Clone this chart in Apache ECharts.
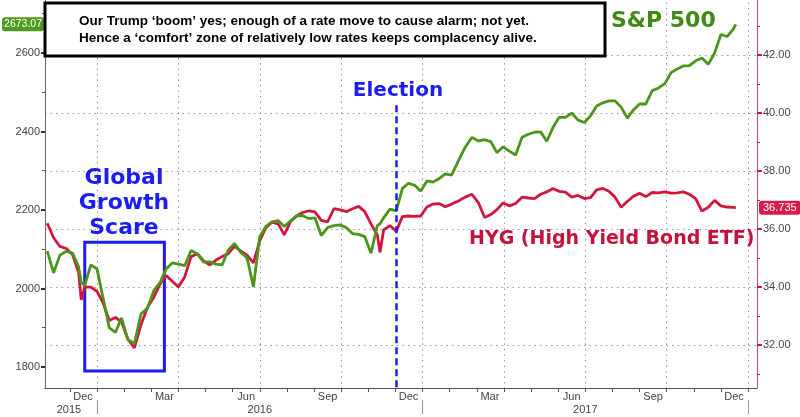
<!DOCTYPE html>
<html>
<head>
<meta charset="utf-8">
<script src="https://cdn.jsdelivr.net/npm/echarts@6/dist/echarts.min.js"></script>
<style>
  html, body { margin: 0; padding: 0; background: #fff; }
  #main { width: 800px; height: 417px; }
</style>
</head>
<body>
<div id="main"></div>
<script>
// weekly closes (S&P 500 on left axis, HYG on right axis)
var dates = [
  '2015-11-06','2015-11-13','2015-11-20','2015-11-27','2015-12-04','2015-12-11','2015-12-14','2015-12-18','2015-12-25',
  '2016-01-01','2016-01-08','2016-01-15','2016-01-22','2016-01-29','2016-02-05','2016-02-12','2016-02-19','2016-02-26',
  '2016-03-04','2016-03-11','2016-03-18','2016-03-25','2016-04-01','2016-04-08','2016-04-15','2016-04-22','2016-04-29',
  '2016-05-06','2016-05-13','2016-05-20','2016-05-27','2016-06-03','2016-06-10','2016-06-17','2016-06-24',
  '2016-07-01','2016-07-08','2016-07-15','2016-07-22','2016-07-29','2016-08-05','2016-08-12','2016-08-19','2016-08-26',
  '2016-09-02','2016-09-09','2016-09-16','2016-09-23','2016-09-30','2016-10-07','2016-10-14','2016-10-21','2016-10-28',
  '2016-11-04','2016-11-11','2016-11-14','2016-11-18','2016-11-25','2016-12-02','2016-12-09','2016-12-16','2016-12-23','2016-12-30',
  '2017-01-06','2017-01-13','2017-01-20','2017-01-27','2017-02-03','2017-02-10','2017-02-17','2017-02-24',
  '2017-03-03','2017-03-10','2017-03-17','2017-03-24','2017-03-31','2017-04-07','2017-04-14','2017-04-21','2017-04-28',
  '2017-05-05','2017-05-12','2017-05-19','2017-05-26','2017-06-02','2017-06-09','2017-06-16','2017-06-23','2017-06-30',
  '2017-07-07','2017-07-14','2017-07-21','2017-07-28','2017-08-04','2017-08-11','2017-08-18','2017-08-25',
  '2017-09-01','2017-09-08','2017-09-15','2017-09-22','2017-09-29','2017-10-06','2017-10-13','2017-10-20','2017-10-27',
  '2017-11-03','2017-11-10','2017-11-17','2017-11-24','2017-12-01','2017-12-08','2017-12-15','2017-12-18'
];
var spx = [
  2095, 2040, 2085, 2095, 2090, 2055, 2015, 2008, 2060,
  2050, 1975, 1900, 1888, 1925, 1870, 1860, 1935, 1950,
  1995, 2015, 2050, 2065, 2062, 2058, 2097, 2088, 2067,
  2068, 2062, 2060, 2098, 2115, 2092, 2078, 2004,
  2132, 2158, 2170, 2173, 2158, 2172, 2185, 2186, 2178,
  2180, 2135, 2155, 2160, 2162, 2155, 2140, 2138, 2132,
  2090, 2160, 2165, 2180, 2202, 2198, 2255, 2268, 2263, 2248,
  2274, 2271, 2280, 2292, 2289, 2325, 2360, 2385,
  2376, 2379, 2374, 2346, 2361, 2350, 2340, 2385, 2393,
  2398, 2399, 2375, 2410, 2436, 2436, 2447, 2429, 2423,
  2440, 2465, 2473, 2478, 2478, 2462, 2434, 2455,
  2470, 2470, 2504, 2511, 2522, 2550, 2559, 2567, 2568,
  2580, 2587, 2571, 2600, 2647, 2642, 2660, 2673.07
];
var hyg = [
  36.20, 35.70, 35.40, 35.33, 35.12, 34.50, 33.56, 34.00, 34.00,
  33.85, 33.45, 32.85, 32.95, 32.80, 32.20, 31.90, 32.70, 33.30,
  33.65, 34.10, 34.40, 34.20, 34.00, 34.35, 35.05, 35.15, 34.90,
  34.76, 34.93, 35.05, 35.15, 35.40, 35.25, 35.10, 34.83,
  35.60, 36.05, 36.24, 36.18, 35.80, 36.25, 36.45, 36.57, 36.63,
  36.59, 36.30, 36.25, 36.70, 36.66, 36.60, 36.70, 36.78, 36.60,
  36.18, 35.80, 35.20, 35.97, 36.12, 35.92, 36.43, 36.45, 36.44, 36.45,
  36.76, 36.86, 36.88, 36.77, 36.86, 36.97, 37.10, 37.20,
  36.90, 36.40, 36.50, 36.67, 36.90, 36.80, 36.88, 37.10, 37.07,
  37.05, 37.20, 37.28, 37.40, 37.30, 37.27, 37.10, 37.16, 37.05,
  37.08, 37.35, 37.40, 37.30, 37.10, 36.75, 36.95, 37.13,
  37.23, 37.12, 37.26, 37.25, 37.28, 37.24, 37.25, 37.28, 37.20,
  37.05, 36.62, 36.75, 36.99, 36.80, 36.76, 36.75, 36.735
];

// axis ticks and labels
var spTicks = [1800, 2000, 2200, 2400, 2600];
var spMinorTicks = [1900, 2100, 2300, 2500, 2700];
var hygTicks = [32, 34, 36, 38, 40, 42, 44];
var hygMinorTicks = [31, 33, 35, 37, 39, 41, 43];
var monthNames = ['Jan', 'Feb', 'Mar', 'Apr', 'May', 'Jun', 'Jul', 'Aug', 'Sep', 'Oct', 'Nov', 'Dec'];
var monthLabelDates = ['2015-12-16', '2016-03-16', '2016-06-16', '2016-09-16', '2016-12-16',
                       '2017-03-16', '2017-06-16', '2017-09-16', '2017-12-16'];
var quarterDates = ['2016-01-01', '2016-04-01', '2016-07-01', '2016-10-01', '2017-01-01',
                    '2017-04-01', '2017-07-01', '2017-10-01', '2018-01-01'];
var yearLabels = ['2015', '2016', '2017'];
var yearLabelDates = ['2015-11-30', '2016-07-01', '2017-07-01'];
var yearStartDates = ['2016-01-01', '2017-01-01', '2018-01-01'];
var electionDate = '2016-12-02';

var green = '#4b951a';
var red = '#d2173f';
var blue = '#1c1cf5';

// date -> months since 2015-11-01
function toM(s) {
    var p = s.split('-').map(Number);
    var dim = new Date(p[0], p[1], 0).getDate();
    return (p[0] - 2015) * 12 + (p[1] - 11) + (p[2] - 1) / dim;
}

var xMin = 0.083, xMax = 26.33;
var spMin = 1746.5, spMax = 2742.6;
var hygMin = 30.52, hygMax = 44;

var monthTicks = [];
for (var i = 1; i <= 26; i++) monthTicks.push(i);

var spData = dates.map(function (d, i) { return [toM(d), spx[i]]; });
var hygData = dates.map(function (d, i) { return [toM(d), hyg[i]]; });

var lblFont = { fontFamily: 'Liberation Sans', fontSize: 11, color: '#444' };

var myChart = echarts.init(document.getElementById('main'));
var option = {
    animation: false,
    backgroundColor: '#fff',
    grid: { left: 45, right: 43, top: -3, bottom: 29, outerBoundsMode: 'none', containLabel: false },
    xAxis: [{
        // main axis: month ticks, quarter-month labels
        type: 'value', min: xMin, max: xMax, position: 'bottom',
        axisLine: { lineStyle: { color: '#555', width: 1 } },
        axisTick: { customValues: monthTicks, length: 4, lineStyle: { color: '#555' } },
        axisLabel: Object.assign({
            customValues: monthLabelDates.map(toM), margin: 3,
            formatter: function (v) { return monthNames[(Math.floor(v) + 10) % 12]; }
        }, lblFont),
        splitLine: { show: false }
    }, {
        // quarter gridlines
        type: 'value', min: xMin, max: xMax, position: 'bottom',
        axisLine: { show: false },
        axisTick: { show: false, customValues: quarterDates.map(toM) },
        axisLabel: { show: false },
        splitLine: { show: true, lineStyle: { color: '#999', type: [1.5, 4], width: 1 } }
    }, {
        // year row
        type: 'value', min: xMin, max: xMax, position: 'bottom', offset: 12,
        axisLine: { show: false },
        axisTick: { customValues: yearStartDates.map(toM), length: 14, lineStyle: { color: '#999' } },
        axisLabel: Object.assign({
            customValues: yearLabelDates.map(toM), margin: 4,
            formatter: function (v) {
                var vals = yearLabelDates.map(toM);
                for (var k = 0; k < vals.length; k++) if (Math.abs(vals[k] - v) < 0.01) return yearLabels[k];
                return '';
            }
        }, lblFont),
        splitLine: { show: false }
    }],
    yAxis: [{
        type: 'value', min: spMin, max: spMax, position: 'left',
        axisLine: { show: true, lineStyle: { color: '#666' } },
        axisTick: { show: true, customValues: spTicks, length: 4, lineStyle: { color: '#333', width: 2 } },
        axisLabel: Object.assign({
            customValues: spTicks, margin: 5,
            formatter: function (v) { return String(v); }
        }, lblFont),
        splitLine: { show: false }
    }, {
        type: 'value', min: hygMin, max: hygMax, position: 'right',
        axisLine: { show: true, lineStyle: { color: '#d2456a' } },
        axisTick: { show: true, customValues: hygTicks, length: 5, lineStyle: { color: red, width: 2 } },
        axisLabel: Object.assign({
            customValues: hygTicks, margin: 6,
            formatter: function (v) { return v.toFixed(2); }
        }, lblFont),
        splitLine: { show: true, lineStyle: { color: '#999', type: [1.5, 4], width: 1 } }
    }, {
        type: 'value', min: hygMin, max: hygMax, position: 'right',
        axisLine: { show: false },
        axisTick: { show: true, customValues: hygMinorTicks, length: 3, lineStyle: { color: red } },
        axisLabel: { show: false },
        splitLine: { show: false }
    }, {
        // last value tag, S&P
        type: 'value', min: spMin, max: spMax, position: 'left',
        axisLine: { show: false }, axisTick: { show: false }, splitLine: { show: false },
        axisLabel: {
            customValues: [spx[spx.length - 1]], margin: 1,
            formatter: function (v) { return v.toFixed(2); },
            fontFamily: 'Liberation Sans', fontSize: 10.5, color: '#fff',
            backgroundColor: '#4e9a1e', borderRadius: 3, padding: [2, 2, 1, 2]
        }
    }, {
        // last value tag, HYG
        type: 'value', min: hygMin, max: hygMax, position: 'right',
        axisLine: { show: false }, axisTick: { show: false }, splitLine: { show: false },
        axisLabel: {
            customValues: [hyg[hyg.length - 1]], margin: 2,
            formatter: function (v) { return v.toFixed(3); },
            fontFamily: 'Liberation Sans', fontSize: 11, color: '#fff',
            backgroundColor: '#d81b4f', borderRadius: 3, padding: [2, 4, 1, 4]
        }
    }, {
        // minor ticks, S&P
        type: 'value', min: spMin, max: spMax, position: 'left',
        axisLine: { show: false },
        axisTick: { show: true, customValues: spMinorTicks, length: 3, lineStyle: { color: '#555' } },
        axisLabel: { show: false },
        splitLine: { show: false }
    }],
    series: [{
        name: 'HYG',
        type: 'line',
        xAxisIndex: 0, yAxisIndex: 1,
        data: hygData,
        showSymbol: false,
        lineStyle: { color: red, width: 2.8 },
        itemStyle: { color: red },
        z: 3
    }, {
        name: 'S&P 500',
        type: 'line',
        xAxisIndex: 0, yAxisIndex: 0,
        data: spData,
        showSymbol: false,
        lineStyle: { color: green, width: 2.8 },
        itemStyle: { color: green },
        z: 4,
        markLine: {
            silent: true, symbol: 'none', label: { show: false },
            lineStyle: { color: blue, width: 2.5, type: [7, 4] },
            data: [[{ coord: [toM(electionDate), 2467] }, { coord: [toM(electionDate), spMin] }]]
        },
        markArea: {
            silent: true, label: { show: false },
            itemStyle: { color: 'rgba(0,0,0,0)', borderColor: blue, borderWidth: 3 },
            data: [[{ coord: [toM('2015-12-18'), 2118] }, { coord: [toM('2016-03-16'), 1790] }]]
        }
    }],
    graphic: [
        { type: 'rect', z: 100, shape: { x: 45, y: 3, width: 560, height: 53 },
          style: { fill: '#fff', stroke: '#000', lineWidth: 3 } },
        { type: 'text', z: 101, x: 79, y: 21,
          style: { text: 'Our Trump ‘boom’ yes; enough of a rate move to cause alarm; not yet.',
                   font: 'bold 13.5px "Liberation Sans"', fill: '#000', verticalAlign: 'middle' } },
        { type: 'text', z: 101, x: 79, y: 38,
          style: { text: 'Hence a ‘comfort’ zone of relatively low rates keeps complacency alive.',
                   font: 'bold 13.5px "Liberation Sans"', fill: '#000', verticalAlign: 'middle' } },
        { type: 'text', z: 101, x: 611, y: 21,
          style: { text: 'S&P 500', font: 'bold 22px "DejaVu Sans"', fill: '#3f8a14', verticalAlign: 'middle' } },
        { type: 'text', z: 101, x: 398, y: 91,
          style: { text: 'Election', font: 'bold 20px "DejaVu Sans"', fill: blue, align: 'center', verticalAlign: 'middle' } },
        { type: 'text', z: 101, x: 124, y: 203,
          style: { text: 'Global\nGrowth\nScare', font: 'bold 22px "DejaVu Sans"', lineHeight: 25,
                   fill: blue, align: 'center', verticalAlign: 'middle' } },
        { type: 'text', z: 101, x: 469, y: 239,
          style: { text: 'HYG (High Yield Bond ETF)', font: 'bold 19px "DejaVu Sans"', fill: '#c4123a', verticalAlign: 'middle' } }
    ]
};
myChart.setOption(option);
</script>
</body>
</html>
